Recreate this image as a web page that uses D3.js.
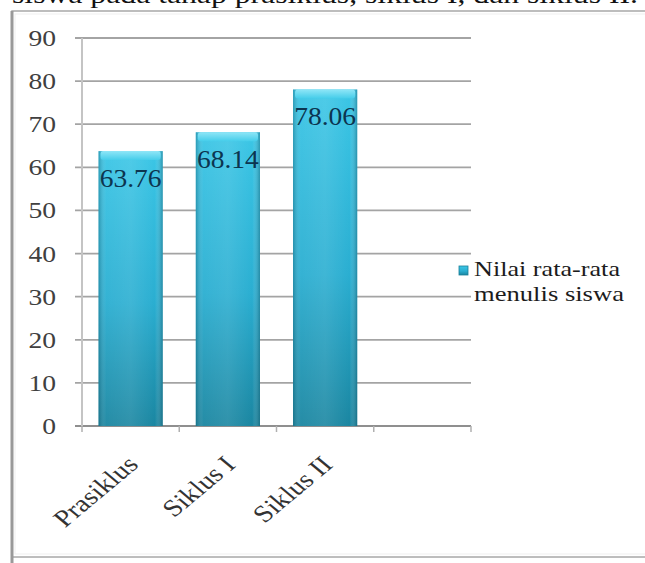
<!DOCTYPE html>
<html>
<head>
<meta charset="utf-8">
<script src="https://cdn.jsdelivr.net/npm/d3@7"></script>
<style>
  body { margin: 0; background: #fff; }
  svg { display: block; font-family: "Liberation Serif", "Times New Roman", serif; }
</style>
</head>
<body>
<div id="chart"></div>
<script>
// data
var categories = ['Prasiklus', 'Siklus I', 'Siklus II']
var values = [63.76, 68.14, 78.06]
var yTicks = [0, 10, 20, 30, 40, 50, 60, 70, 80, 90]
var legendLines = ['Nilai rata-rata', 'menulis siswa']
var captionText = 'siswa pada tahap prasiklus, siklus I, dan siklus II.'

var w = 645, h = 563
var sx = 1.2 // the source picture is stretched sideways a bit

var svg = d3.select('#chart').append('svg').attr('width', w).attr('height', h)

var defs = svg.append('defs')
var g1 = defs.append('linearGradient').attr('id', 'barV').attr('x1', 0).attr('y1', 0).attr('x2', 0).attr('y2', 1)
g1.append('stop').attr('offset', '0%').attr('stop-color', '#3bc6e6')
g1.append('stop').attr('offset', '55%').attr('stop-color', '#2aaed1')
g1.append('stop').attr('offset', '100%').attr('stop-color', '#1a86a1')
var g2 = defs.append('linearGradient').attr('id', 'barH').attr('x1', 0).attr('y1', 0).attr('x2', 1).attr('y2', 0)
g2.append('stop').attr('offset', '0%').attr('stop-color', '#0a4a5c').attr('stop-opacity', 0.35)
g2.append('stop').attr('offset', '12%').attr('stop-color', '#ffffff').attr('stop-opacity', 0.05)
g2.append('stop').attr('offset', '50%').attr('stop-color', '#ffffff').attr('stop-opacity', 0.1)
g2.append('stop').attr('offset', '88%').attr('stop-color', '#ffffff').attr('stop-opacity', 0.0)
g2.append('stop').attr('offset', '100%').attr('stop-color', '#0a4a5c').attr('stop-opacity', 0.4)
var g3 = defs.append('linearGradient').attr('id', 'cap').attr('x1', 0).attr('y1', 0).attr('x2', 0).attr('y2', 1)
g3.append('stop').attr('offset', '0%').attr('stop-color', '#8fe6f7')
g3.append('stop').attr('offset', '100%').attr('stop-color', '#45cdea')

// caption line cut off at the top
svg.append('text')
  .attr('x', 12).attr('y', 3)
  .attr('font-size', 26)
  .attr('textLength', 626).attr('lengthAdjust', 'spacingAndGlyphs')
  .attr('fill', '#111')
  .text(captionText)

// chart frame
svg.append('rect').attr('x', 12).attr('y', 11).attr('width', w).attr('height', 546)
  .attr('fill', '#fff').attr('stroke', '#a8a8a8').attr('stroke-width', 1.5)
svg.append('line').attr('x1', 12).attr('x2', 12).attr('y1', 11).attr('y2', h)
  .attr('stroke', '#999').attr('stroke-width', 3)
svg.append('rect').attr('x', 15).attr('y', 14).attr('width', w).attr('height', 540)
  .attr('fill', 'none').attr('stroke', '#efefef').attr('stroke-width', 1)

var x = d3.scaleBand().domain(categories.concat([''])).range([82, 471]).paddingInner(0).paddingOuter(0)
var y = d3.scaleLinear().domain([0, 90]).range([426, 38])

// gridlines
svg.append('g').selectAll('line').data(yTicks).join('line')
  .attr('x1', 75).attr('x2', 471)
  .attr('y1', function (d) { return y(d) }).attr('y2', function (d) { return y(d) })
  .attr('stroke', function (d) { return d === 0 ? '#8f8f8f' : '#a4a4a4' })
  .attr('stroke-width', 1.8)

// vertical axis line
svg.append('line').attr('x1', 82).attr('x2', 82).attr('y1', y(90)).attr('y2', y(0))
  .attr('stroke', '#c4c4c4').attr('stroke-width', 2)

// x tick marks at band edges
var edges = x.domain().map(function (d) { return x(d) }).concat([x.range()[1]])
svg.append('g').selectAll('line').data(edges).join('line')
  .attr('x1', function (d) { return d }).attr('x2', function (d) { return d })
  .attr('y1', y(0)).attr('y2', y(0) + 6)
  .attr('stroke', '#b0b0b0').attr('stroke-width', 1.5)

// y labels
svg.append('g').selectAll('text').data(yTicks).join('text')
  .attr('transform', function (d) { return 'translate(56,' + (y(d) + 8) + ') scale(' + sx + ',1)' })
  .attr('text-anchor', 'end')
  .attr('font-size', 23)
  .attr('fill', '#404040')
  .text(function (d) { return d })

// bars
var bw = x.bandwidth() * 0.66
var bars = svg.append('g').selectAll('g').data(values).join('g')
bars.append('rect')
  .attr('x', function (d, i) { return x(categories[i]) + (x.bandwidth() - bw) / 2 })
  .attr('y', function (d) { return y(d) })
  .attr('width', bw)
  .attr('height', function (d) { return y(0) - y(d) })
  .attr('fill', 'url(#barV)')
bars.append('rect')
  .attr('x', function (d, i) { return x(categories[i]) + (x.bandwidth() - bw) / 2 })
  .attr('y', function (d) { return y(d) })
  .attr('width', bw)
  .attr('height', function (d) { return y(0) - y(d) })
  .attr('fill', 'url(#barH)')
bars.append('rect')
  .attr('x', function (d, i) { return x(categories[i]) + (x.bandwidth() - bw) / 2 + 2 })
  .attr('y', function (d) { return y(d) })
  .attr('width', bw - 4)
  .attr('height', 9)
  .attr('rx', 3)
  .attr('fill', 'url(#cap)')

// value labels
bars.append('text')
  .attr('transform', function (d, i) {
    return 'translate(' + (x(categories[i]) + x.bandwidth() / 2) + ',' + (y(d) + 36) + ') scale(' + 1.1 + ',1)'
  })
  .attr('text-anchor', 'middle')
  .attr('font-size', 25)
  .attr('fill', '#0c3550')
  .text(function (d) { return d.toFixed(2) })

// category labels
svg.append('g').selectAll('text').data(categories).join('text')
  .attr('transform', function (d) {
    return 'translate(' + (x(d) + x.bandwidth() / 2 + 9) + ',466) scale(' + sx + ',1) rotate(-45)'
  })
  .attr('text-anchor', 'end')
  .attr('font-size', 24)
  .attr('fill', '#333')
  .text(function (d) { return d })

// legend
svg.append('rect').attr('x', 459).attr('y', 266).attr('width', 9).attr('height', 9)
  .attr('fill', 'url(#barV)').attr('stroke', '#1b7f98').attr('stroke-width', 0.8)
svg.append('g').selectAll('text').data(legendLines).join('text')
  .attr('x', 474)
  .attr('y', function (d, i) { return 276 + i * 25 })
  .attr('font-size', 21)
  .attr('textLength', function (d, i) { return i === 0 ? 146 : 150 })
  .attr('lengthAdjust', 'spacingAndGlyphs')
  .attr('fill', '#1c1c1c')
  .text(function (d) { return d })
</script>
</body>
</html>
